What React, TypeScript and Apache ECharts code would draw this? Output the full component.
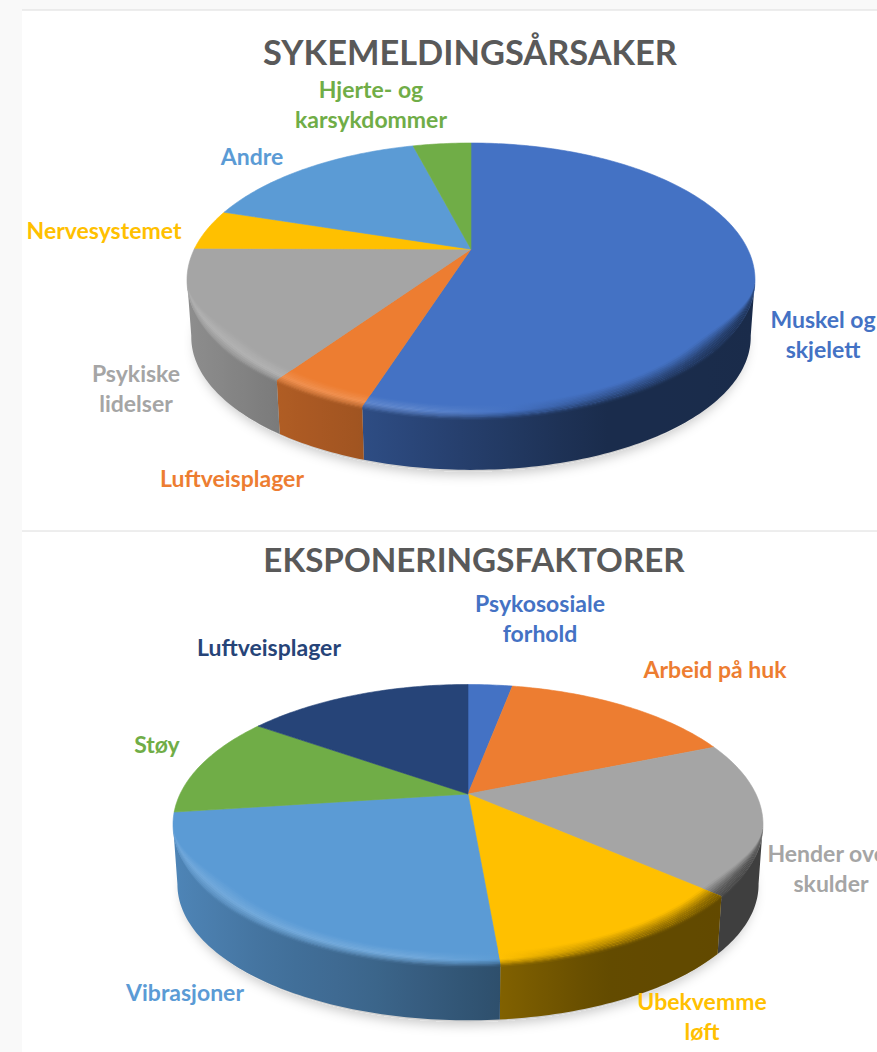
import React, { useEffect, useRef } from "react";
import * as echarts from "echarts";

const topNames = ["Muskel og\nskjelett", "Luftveisplager", "Psykiske\nlidelser", "Nervesystemet", "Andre", "Hjerte- og\nkarsykdommer"];
const topValues = [55, 4.7, 15.4, 4.8, 16, 4.1];
const topColors = ["#4472c4", "#ed7d31", "#a5a5a5", "#ffc000", "#5b9bd5", "#70ad47"];
const topLabelPos = [[823, 334], [232, 478], [136, 388], [104, 230], [252, 156], [371, 104]];

const bottomNames = ["Psykososiale\nforhold", "Arbeid på huk", "Hender over\nskulder", "Ubekvemme\nløft", "Vibrasjoner", "Støy", "Luftveisplager"];
const bottomValues = [3, 15.8, 17.6, 12.2, 24.3, 11.8, 15.3];
const bottomColors = ["#4472c4", "#ed7d31", "#a5a5a5", "#ffc000", "#5b9bd5", "#70ad47", "#264478"];
const bottomLabelPos = [[540, 618], [715, 669], [831, 868], [702, 1016], [185, 992], [157, 744], [269, 647]];

const FONT = "Lato";

type Pie = { cx: number; cy: number; rx: number; ry: number; depth: number; a: number };
const topPie: Pie = { cx: 471, cy: 280, rx: 284, ry: 137, depth: 57, a: -0.225 };
const bottomPie: Pie = { cx: 468, cy: 824.5, rx: 295, ry: 140, depth: 60, a: -0.218 };

function hex(c: string) {
  return [1, 3, 5].map((i) => parseInt(c.slice(i, i + 2), 16));
}
function rgb(c: number[]) {
  return `rgb(${c.map((v) => Math.max(0, Math.min(255, Math.round(v)))).join(",")})`;
}
function mix(p: number[], q: number[], s: number) {
  return p.map((v, i) => v + (q[i] - v) * s);
}
function lerpTable(table: number[][], t: number) {
  if (t <= table[0][0]) return table[0][1];
  for (let i = 1; i < table.length; i++) {
    if (t <= table[i][0]) {
      const [x0, y0] = table[i - 1];
      const [x1, y1] = table[i];
      return y0 + ((y1 - y0) * (t - x0)) / (x1 - x0);
    }
  }
  return table[table.length - 1][1];
}
const wallShade = [[-1, 0.86], [-0.68, 0.74], [-0.37, 0.67], [0.1, 0.51], [0.45, 0.39], [1, 0.38]];
const rimShade = [[-1, 1.18], [-0.2, 1.2], [0.1, 1.02], [0.45, 0.75], [1, 0.5]];

// Projective map of a circle onto the tilted ellipse: theta is clockwise from twelve o'clock.
function project(p: Pie, theta: number) {
  const u = Math.sin(theta);
  const v = -Math.cos(theta);
  const den = 1 + p.a * v;
  return [(u * Math.sqrt(1 - p.a * p.a)) / den, (v + p.a) / den];
}

function stops(fn: (t: number) => number[], t0: number, t1: number) {
  const out: any[] = [];
  for (let i = 0; i <= 8; i++) {
    out.push({ offset: i / 8, color: rgb(fn(t0 + ((t1 - t0) * i) / 8)) });
  }
  return out;
}

function makeSeries(p: Pie, names: string[], values: number[], colors: string[], labelPos: number[][]) {
  const total = values.reduce((s, v) => s + v, 0);
  return {
    type: "custom",
    coordinateSystem: "none",
    silent: true,
    clip: false,
    data: values.map((v, i) => ({ name: names[i], value: [v] })),
    renderItem(params: any, api: any) {
      const i = params.dataIndex;
      const value = api.value(0);
      const before = values.slice(0, i).reduce((s, v) => s + v, 0);
      const th0 = (before / total) * Math.PI * 2;
      const th1 = ((before + value) / total) * Math.PI * 2;
      const base = hex(colors[i]);
      const n = Math.max(4, Math.ceil(((th1 - th0) * 180) / Math.PI));
      const arc: number[][] = [];
      for (let k = 0; k <= n; k++) arc.push(project(p, th0 + ((th1 - th0) * k) / n));

      const ax = p.cx;
      const ay = p.cy + p.a * p.ry;
      const children: any[] = [];

      const facePts = [[ax, ay], ...arc.map(([x, y]) => [p.cx + p.rx * x, p.cy + p.ry * y])];
      children.push({
        type: "polygon",
        z2: 2,
        shape: { points: facePts },
        style: { fill: colors[i], stroke: colors[i], lineWidth: 0.6 },
      });

      const front = arc.filter(([, y]) => y >= -0.01);
      if (front.length > 1) {
        const t0 = Math.min(...front.map(([x]) => x));
        const t1 = Math.max(...front.map(([x]) => x));
        const grad = (fn: (t: number) => number[]) => ({
          type: "linear",
          x: 0,
          y: 0,
          x2: 1,
          y2: 0,
          colorStops: stops(fn, t0, t1),
        });
        const wallColor = (t: number) => base.map((v) => v * lerpTable(wallShade, t));
        const up = front.map(([x, y]) => [p.cx + p.rx * x, p.cy + p.ry * y]);
        const down = front
          .map(([x, y]) => [p.cx + p.rx * 0.985 * x, p.cy + p.ry * 0.97 * y + p.depth])
          .reverse();
        children.push({
          type: "polygon",
          z2: 1,
          shape: { points: [...up, ...down] },
          style: { fill: grad(wallColor) },
        });

        // Bevel: strips from the face colour over a highlight into the wall colour.
        const R = 12;
        const W = 3;
        const levels = 12;
        const place = (x: number, y: number, s: number) => {
          const r = Math.min(1, Math.max(y, 0) / 0.55);
          const f = r * r * (3 - 2 * r);
          const d = (-R + s * (R + W)) * f;
          const px = p.cx + p.rx * x;
          const py = p.cy + p.ry * y;
          if (d >= 0) return [px, py + d];
          const len = Math.hypot((px - ax) * (p.ry / p.rx), py - ay);
          const k = 1 + d / len;
          return [ax + (px - ax) * k, ay + (py - ay) * k];
        };
        for (let l = 0; l < levels; l++) {
          const s0 = l / levels;
          const s1 = Math.min(1, (l + 1.15) / levels);
          const sm = (l + 0.5) / levels;
          const colorAt = (t: number) => {
            const hl = lerpTable(rimShade, t);
            const high = hl > 1 ? mix(base, [255, 255, 255], (hl - 1) * 0.8) : base.map((v) => v * hl);
            return sm < 0.5 ? mix(base, high, sm / 0.5) : mix(high, wallColor(t), (sm - 0.5) / 0.5);
          };
          const a1 = front.map(([x, y]) => place(x, y, s0));
          const a2 = front.map(([x, y]) => place(x, y, s1)).reverse();
          children.push({
            type: "polygon",
            z2: 3 + l / 20,
            shape: { points: [...a1, ...a2] },
            style: { fill: grad(colorAt) },
          });
        }
      }

      children.push({
        type: "text",
        z2: 9,
        x: labelPos[i][0],
        y: labelPos[i][1],
        style: {
          text: names[i],
          fill: colors[i],
          fontFamily: FONT,
          fontWeight: "bold",
          fontSize: 23,
          lineHeight: 30,
          align: "center",
          verticalAlign: "middle",
        },
      });
      return { type: "group", children };
    },
  };
}

function shadow(p: Pie) {
  return {
    type: "ellipse",
    z: -1,
    silent: true,
    shape: { cx: p.cx, cy: p.cy + p.depth + 3, rx: p.rx * 0.97, ry: p.ry * 0.96 },
    style: { fill: "#d0d0d0", shadowColor: "rgba(0,0,0,0.22)", shadowBlur: 12, shadowOffsetY: 3 },
  };
}

export default function App() {
  const ref = useRef<HTMLDivElement>(null);
  useEffect(() => {
    document.body.style.margin = "0";
    const chart = echarts.init(ref.current!, undefined, { renderer: "svg" });
    chart.setOption({
      animation: false,
      backgroundColor: "#f9f9f9",
      title: [
        { text: "SYKEMELDINGSÅRSAKER", left: 465, top: 29, textAlign: "center", textStyle: { color: "#595959", fontFamily: FONT, fontWeight: "bold", fontSize: 34.4 } },
        { text: "EKSPONERINGSFAKTORER", left: 469, top: 537, textAlign: "center", textStyle: { color: "#595959", fontFamily: FONT, fontWeight: "bold", fontSize: 33.2 } },
      ],
      graphic: [
        { type: "rect", z: -2, silent: true, shape: { x: 22, y: 10, width: 855, height: 1042 }, style: { fill: "#ffffff" } },
        { type: "line", z: -2, silent: true, shape: { x1: 22, y1: 10, x2: 877, y2: 10 }, style: { stroke: "#dcdcdc", lineWidth: 1 } },
        { type: "line", z: -2, silent: true, shape: { x1: 22, y1: 531, x2: 877, y2: 531 }, style: { stroke: "#dcdcdc", lineWidth: 1 } },
        shadow(topPie),
        shadow(bottomPie),
      ],
      series: [
        makeSeries(topPie, topNames, topValues, topColors, topLabelPos),
        makeSeries(bottomPie, bottomNames, bottomValues, bottomColors, bottomLabelPos),
      ],
    });
    return () => chart.dispose();
  }, []);
  return <div ref={ref} style={{ width: 877, height: 1052, overflow: "hidden" }} />;
}
